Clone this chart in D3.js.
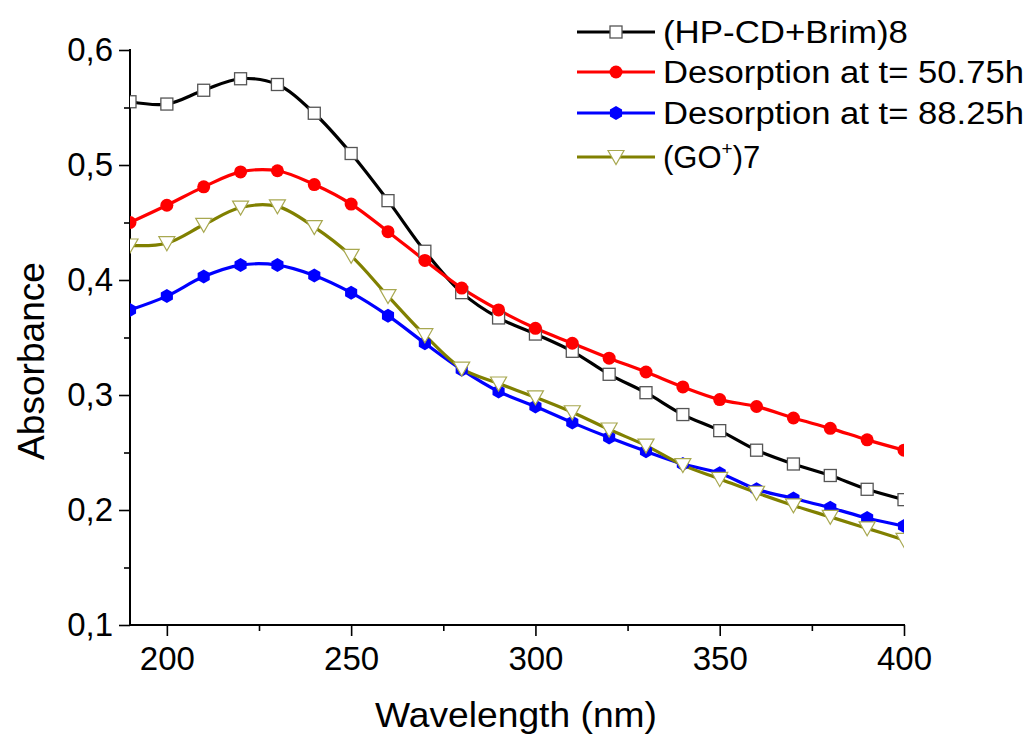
<!DOCTYPE html>
<html>
<head>
<meta charset="utf-8">
<script src="https://cdn.jsdelivr.net/npm/d3@7/dist/d3.min.js"></script>
<style>
  html, body { margin: 0; padding: 0; background: #fff; }
  svg { display: block; font-family: "Liberation Sans", Arial, sans-serif; }
</style>
</head>
<body>
<svg id="chart" width="1029" height="736"></svg>
<script>
// Wavelength grid (nm) and absorbance spectra
const wavelengths = [190, 200, 210, 220, 230, 240, 250, 260, 270, 280, 290, 300, 310, 320, 330, 340, 350, 360, 370, 380, 390, 400];

const hpcdBrim = [0.555, 0.553, 0.565, 0.575, 0.570, 0.545, 0.510, 0.469, 0.425, 0.389, 0.367, 0.353, 0.338, 0.318, 0.302, 0.283, 0.269, 0.252, 0.240, 0.230, 0.218, 0.209];
const desorb5075 = [0.450, 0.465, 0.481, 0.494, 0.495, 0.483, 0.466, 0.442, 0.417, 0.393, 0.374, 0.358, 0.345, 0.332, 0.320, 0.307, 0.296, 0.290, 0.280, 0.271, 0.261, 0.252];
const desorb8825 = [0.374, 0.386, 0.403, 0.413, 0.413, 0.404, 0.389, 0.369, 0.345, 0.322, 0.303, 0.290, 0.276, 0.263, 0.251, 0.240, 0.232, 0.218, 0.210, 0.202, 0.193, 0.186];
const goPlus7 = [0.430, 0.432, 0.448, 0.463, 0.464, 0.446, 0.421, 0.386, 0.352, 0.323, 0.310, 0.298, 0.285, 0.270, 0.256, 0.239, 0.227, 0.215, 0.204, 0.194, 0.184, 0.174];

const xTicks = [200, 250, 300, 350, 400];
const yTicks = [0.1, 0.2, 0.3, 0.4, 0.5, 0.6];

const series = [
  { name: "(HP-CD+Brim)8", values: hpcdBrim, color: "#000000", marker: "square", labelWidth: 245 },
  { name: "Desorption at t= 50.75h", values: desorb5075, color: "#ff0000", marker: "circle", labelWidth: 361 },
  { name: "Desorption at t= 88.25h", values: desorb8825, color: "#0000ff", marker: "hexagon", labelWidth: 361 },
  { name: "(GO+)7", values: goPlus7, color: "#808000", marker: "triangle", labelWidth: 0 }
];

const svg = d3.select("#chart");
const plotLeft = 130, plotRight = 904, plotTop = 50, plotBottom = 625;

const x = d3.scaleLinear().domain([190, 400]).range([plotLeft, plotRight]);
const y = d3.scaleLinear().domain([0.1, 0.6]).range([plotBottom, plotTop]);

// Clip region for the data
svg.append("defs").append("clipPath").attr("id", "plotClip")
  .append("rect").attr("x", plotLeft).attr("y", plotTop - 20)
  .attr("width", plotRight - plotLeft).attr("height", plotBottom - plotTop + 20);

// Axes with major and minor ticks
const xMinor = d3.range(225, 400, 50);
const yMinor = d3.range(0.15, 0.6, 0.1);

const gx = svg.append("g").attr("transform", `translate(0,${plotBottom})`);
gx.call(d3.axisBottom(x).tickValues(xTicks).tickSize(11).tickPadding(11).tickFormat(d3.format("d")));
gx.append("g").call(d3.axisBottom(x).tickValues(xMinor).tickSize(6).tickFormat(""));
gx.selectAll(".domain").remove();
gx.append("line").attr("x1", plotLeft - 1).attr("x2", plotRight + 1).attr("stroke", "#000").attr("stroke-width", 2);

const gy = svg.append("g").attr("transform", `translate(${plotLeft},0)`);
gy.call(d3.axisLeft(y).tickValues(yTicks).tickSize(11).tickPadding(6).tickFormat(d => d3.format(".1f")(d).replace(".", ",")));
gy.append("g").call(d3.axisLeft(y).tickValues(yMinor).tickSize(6).tickFormat(""));
gy.selectAll(".domain").remove();
gy.append("line").attr("y1", plotTop - 1).attr("y2", plotBottom + 1).attr("stroke", "#000").attr("stroke-width", 2);

svg.selectAll(".tick line").attr("stroke", "#000").attr("stroke-width", 1.6);
svg.selectAll(".tick text").attr("fill", "#000").attr("font-size", 33).attr("font-family", "Liberation Sans, Arial, sans-serif");

// Axis titles
svg.append("text").attr("x", 375).attr("y", 727)
  .attr("font-size", 35).attr("textLength", 282).attr("lengthAdjust", "spacingAndGlyphs")
  .text("Wavelength (nm)");
svg.append("text").attr("transform", `translate(44,460) rotate(-90)`)
  .attr("font-size", 37).attr("textLength", 198).attr("lengthAdjust", "spacingAndGlyphs")
  .text("Absorbance");

// Marker drawing
function drawMarker(g, type, color, cx, cy) {
  if (type === "square") {
    g.append("rect").attr("x", cx - 6).attr("y", cy - 6).attr("width", 12).attr("height", 12)
      .attr("fill", "#fff").attr("stroke", "#555").attr("stroke-width", 1.3);
  } else if (type === "circle") {
    g.append("circle").attr("cx", cx).attr("cy", cy).attr("r", 6.5).attr("fill", color);
  } else if (type === "hexagon") {
    const r = 7;
    const pts = d3.range(6).map(i => {
      const a = Math.PI / 6 + i * Math.PI / 3;
      return [cx + r * Math.cos(a), cy + r * Math.sin(a)];
    });
    g.append("polygon").attr("points", pts.map(p => p.join(",")).join(" ")).attr("fill", color);
  } else if (type === "triangle") {
    const w = 8;
    g.append("polygon")
      .attr("points", `${cx - w},${cy - 6.5} ${cx + w},${cy - 6.5} ${cx},${cy + 7.5}`)
      .attr("fill", "#fff").attr("stroke", "#a8a850").attr("stroke-width", 1.2);
  }
}

const line = d3.line()
  .x(d => x(d[0]))
  .y(d => y(d[1]))
  .curve(d3.curveCatmullRom.alpha(0.5));

const plot = svg.append("g").attr("clip-path", "url(#plotClip)");
series.forEach(s => {
  const pts = wavelengths.map((w, i) => [w, s.values[i]]);
  plot.append("path").datum(pts).attr("d", line)
    .attr("fill", "none").attr("stroke", s.color).attr("stroke-width", 3.2)
    .attr("stroke-linejoin", "round");
});
series.forEach(s => {
  const g = plot.append("g");
  wavelengths.forEach((w, i) => drawMarker(g, s.marker, s.color, x(w), y(s.values[i])));
});

// Legend
const legend = svg.append("g");
const rowsY = [32, 72, 113, 157];
series.forEach((s, i) => {
  const ly = rowsY[i];
  legend.append("line").attr("x1", 577).attr("x2", 655).attr("y1", ly).attr("y2", ly)
    .attr("stroke", s.color).attr("stroke-width", 3.2);
  drawMarker(legend, s.marker, s.color, 616, ly);
  const t = legend.append("text").attr("x", 663).attr("y", ly + 11).attr("font-size", 31).attr("fill", "#000");
  if (s.marker === "triangle") {
    t.append("tspan").text("(GO");
    t.append("tspan").attr("dy", -13).attr("font-size", 19).text("+");
    t.append("tspan").attr("dy", 13).text(")7");
  } else {
    t.attr("textLength", s.labelWidth).attr("lengthAdjust", "spacingAndGlyphs").text(s.name);
  }
});
</script>
</body>
</html>
